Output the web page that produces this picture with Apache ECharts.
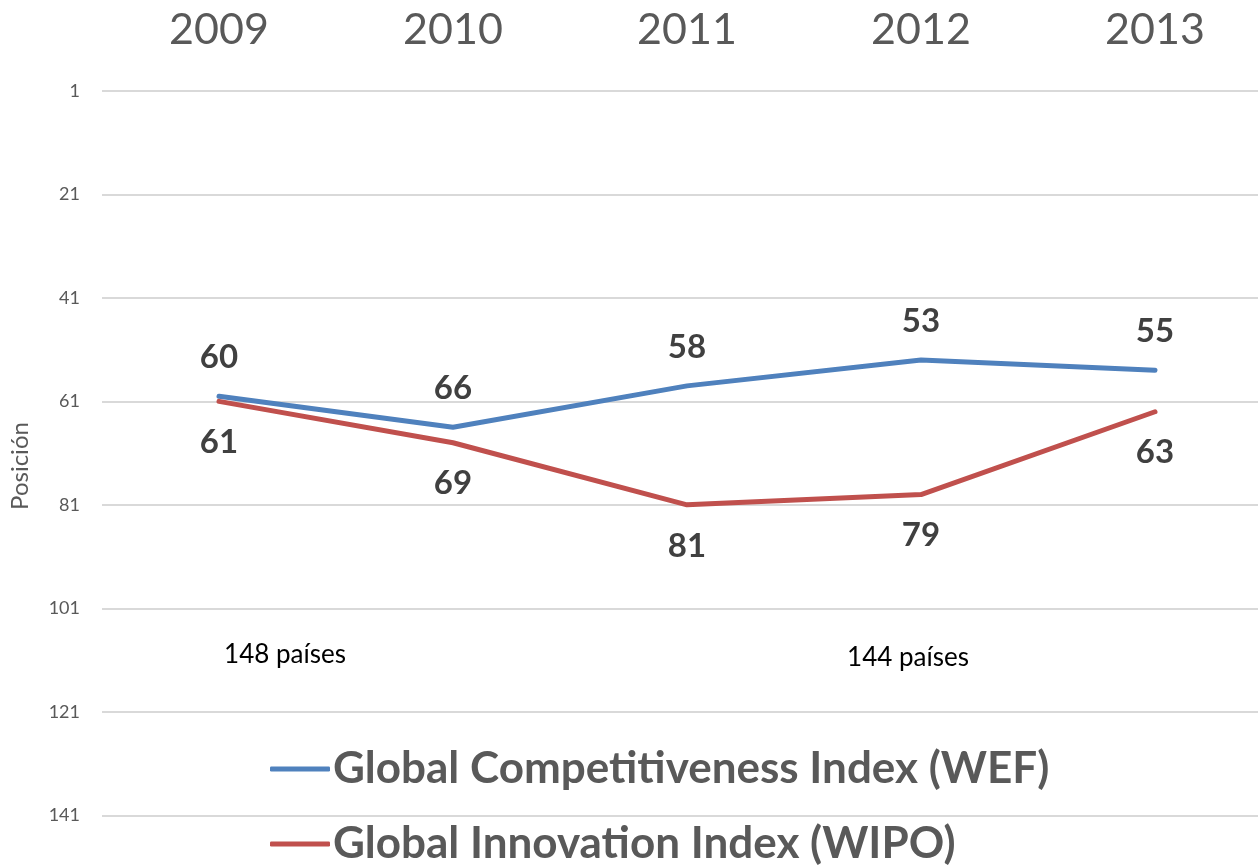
<!DOCTYPE html>
<html>
<head>
<meta charset="utf-8">
<style>
    html, body { margin: 0; padding: 0; background: #fff; }
</style>
</head>
<body>
<div id="main" style="width: 1258px;height:867px;"></div>

<script type="text/javascript" src="https://cdn.jsdelivr.net/npm/echarts@6/dist/echarts.min.js"></script>
<script>
    var years = ['2009', '2010', '2011', '2012', '2013'];
    var gci = [60, 66, 58, 53, 55];
    var gii = [61, 69, 81, 79, 63];
    var yTicks = [1, 21, 41, 61, 81, 101, 121, 141];
    var notes = ['148 países', '144 países'];

    var myChart = echarts.init(document.getElementById('main'));
    var font = 'Lato, "Open Sans", sans-serif';

    option = {
        textStyle: { fontFamily: font },
        legend: {
            orient: 'vertical',
            left: 270,
            top: 747,
            height: 200,
            padding: 0,
            itemWidth: 60,
            itemHeight: 5,
            itemGap: 31,
            textStyle: {
                fontFamily: font,
                fontSize: 44,
                fontWeight: 'bold',
                color: '#595959',
                padding: [0, 0, 0, -2]
            },
            data: [
                { name: 'Global Competitiveness Index (WEF)', icon: 'roundRect' },
                { name: 'Global Innovation Index (WIPO)', icon: 'roundRect' }
            ]
        },
        grid: {
            left: 102,
            width: 1170,
            top: 91,
            bottom: 0,
            outerBoundsMode: 'none'
        },
        xAxis: {
            type: 'category',
            position: 'top',
            data: years,
            axisLine: { show: false },
            axisTick: { show: false },
            axisLabel: {
                margin: 39,
                fontSize: 43,
                color: '#595959',
                fontFamily: font
            }
        },
        yAxis: {
            type: 'value',
            inverse: true,
            min: 1,
            max: 151,
            name: 'Posición',
            nameLocation: 'middle',
            nameGap: 70,
            nameTextStyle: {
                fontSize: 24,
                color: '#595959',
                fontFamily: font,
                padding: [0, 0, 0, 26]
            },
            axisLine: { show: false },
            axisTick: { show: false, customValues: yTicks },
            axisLabel: {
                customValues: yTicks,
                margin: 22,
                fontSize: 18,
                color: '#595959',
                fontFamily: font
            },
            splitLine: { lineStyle: { color: '#D9D9D9', width: 2 } }
        },
        graphic: [
            { type: 'text', x: 285, y: 655, style: { text: notes[0], fontSize: 26, fill: '#000', fontFamily: font, align: 'center', verticalAlign: 'middle' } },
            { type: 'text', x: 908, y: 658, style: { text: notes[1], fontSize: 26, fill: '#000', fontFamily: font, align: 'center', verticalAlign: 'middle' } }
        ],
        series: [
            {
                name: 'Global Competitiveness Index (WEF)',
                type: 'line',
                data: gci,
                symbol: 'circle',
                symbolSize: 1,
                color: '#4F81BD',
                lineStyle: { width: 5, color: '#4F81BD', cap: 'round' },
                label: {
                    show: true,
                    position: 'top',
                    distance: 22,
                    fontSize: 33,
                    fontWeight: 'bold',
                    color: '#404040',
                    fontFamily: font
                }
            },
            {
                name: 'Global Innovation Index (WIPO)',
                type: 'line',
                data: gii,
                symbol: 'circle',
                symbolSize: 1,
                color: '#C0504D',
                lineStyle: { width: 5, color: '#C0504D', cap: 'round' },
                label: {
                    show: true,
                    position: 'bottom',
                    distance: 24,
                    fontSize: 33,
                    fontWeight: 'bold',
                    color: '#404040',
                    fontFamily: font
                }
            }
        ]
    };

    myChart.setOption(option);
</script>
</body>
</html>
